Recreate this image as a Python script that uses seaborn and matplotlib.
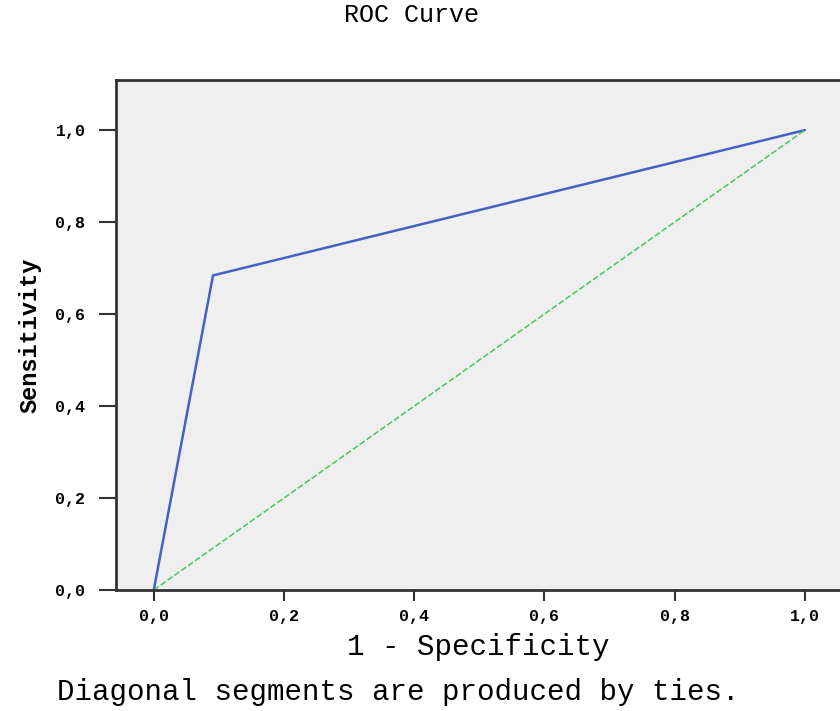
import matplotlib
matplotlib.use("Agg")
import matplotlib.pyplot as plt
import seaborn as sns
import pandas as pd

# Data
fpr = [0.0, 0.091, 1.0]
tpr = [0.0, 0.684, 1.0]
ref_x = [0.0, 1.0]
ref_y = [0.0, 1.0]
tick_vals = [0.0, 0.2, 0.4, 0.6, 0.8, 1.0]
tick_labels = ["0,0", "0,2", "0,4", "0,6", "0,8", "1,0"]

sns.set_theme(style="ticks")
plt.rcParams['font.family'] = ['Liberation Mono', 'DejaVu Sans Mono']
plt.rcParams['text.color'] = 'black'
plt.rcParams['axes.labelcolor'] = 'black'
plt.rcParams['xtick.color'] = '#333333'
plt.rcParams['ytick.color'] = '#333333'

fig = plt.figure(figsize=(8.4, 7.11), dpi=100)
W, H = 840, 711
left, right, top, bottom = 116, 840, 80, 590
ax = fig.add_axes([left / W, (H - bottom) / H, (right - left) / W, (bottom - top) / H])
ax.set_facecolor("#efefef")

roc = pd.DataFrame({"fpr": fpr, "tpr": tpr})
diag = pd.DataFrame({"x": ref_x, "y": ref_y})
sns.lineplot(data=roc, x="fpr", y="tpr", ax=ax, color="#4561c2", lw=1.8, sort=False)
sns.lineplot(data=diag, x="x", y="y", ax=ax, color="#45c85a", lw=1.1,
             linestyle=(0, (4, 1.5)), sort=False)

ax.set_xlim(-0.058, 1.054)
ax.set_ylim(0.0, 1.109)
ax.set_xticks(tick_vals)
ax.set_xticklabels(tick_labels)
ax.set_yticks(tick_vals)
ax.set_yticklabels(tick_labels)
for s in ["left", "bottom", "top"]:
    ax.spines[s].set_visible(True)
    ax.spines[s].set_color("#333333")
    ax.spines[s].set_linewidth(2)
ax.spines["right"].set_visible(False)
ax.tick_params(axis="both", direction="out", width=1.5, labelsize=12,
               labelcolor="black", bottom=True, left=True)
for lab in ax.get_xticklabels() + ax.get_yticklabels():
    lab.set_fontweight("bold")
ax.tick_params(axis="x", length=8, pad=6)
ax.tick_params(axis="y", length=12, pad=10)

ax.set_xlabel("1 - Specificity", fontsize=21, fontweight="normal", labelpad=6)
ax.set_ylabel("Sensitivity", fontsize=17, fontweight="bold", labelpad=10)

fig.text(412 / W, 1 - 15 / H, "ROC Curve", ha="center", va="center", fontsize=18)
fig.text(57 / W, 1 - 692 / H, "Diagonal segments are produced by ties.",
         ha="left", va="center", fontsize=21)

fig.savefig("out.png", dpi=100)
